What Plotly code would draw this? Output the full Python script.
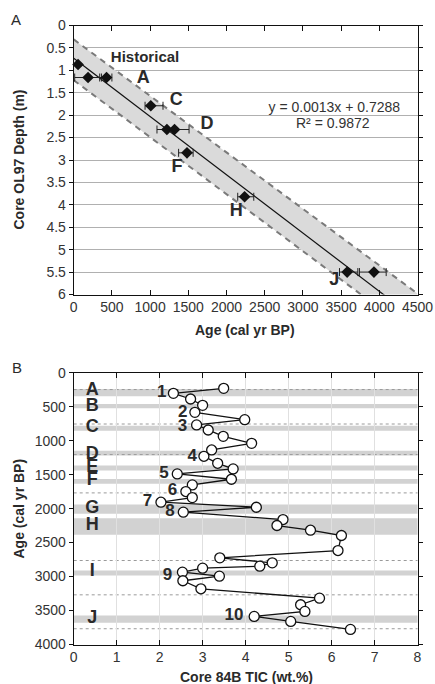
import plotly.graph_objects as go

FONT = "Liberation Sans, Arial, sans-serif"
DARK = "#2a2a2a"

# ---------------- Panel A data ----------------
hist_age = [57]
hist_depth = [0.87]
date_age = [188, 430, 1009, 1220, 1320, 1483, 2237, 3579, 3930]
date_depth = [1.16, 1.16, 1.79, 2.32, 2.32, 2.84, 3.82, 5.50, 5.50]
err_plus = [175, 70, 160, 100, 190, 80, 120, 140, 160]
err_minus = [175, 90, 75, 130, 100, 110, 90, 100, 190]

reg_slope = 0.0013
reg_intercept = 0.7288
reg_age = [0, 4500]

band_upper_age = [0, 4500]
band_upper_depth = [0.31, 5.98]
band_lower_age = [0, 4500]
band_lower_depth = [1.22, 6.94]

a_label_text = ["Historical", "A", "C", "D", "F", "H", "J"]
a_label_age = [934, 912, 1342, 1746, 1351, 2127, 3412]
a_label_depth = [0.73, 1.19, 1.68, 2.2, 3.17, 4.15, 5.68]

eq_text = ["y = 0.0013x + 0.7288", "R² = 0.9872"]
eq_age = [3412, 3391]
eq_depth = [1.85, 2.2]

a_xticks = [0, 500, 1000, 1500, 2000, 2500, 3000, 3500, 4000, 4500]
a_yticks = [0, 0.5, 1, 1.5, 2, 2.5, 3, 3.5, 4, 4.5, 5, 5.5, 6]

# ---------------- Panel B data ----------------
tic = [3.49, 2.32, 2.72, 3.00, 2.82, 3.98, 2.86, 3.13, 3.48, 4.14,
       3.21, 3.03, 3.35, 3.71, 2.41, 3.67, 2.76, 2.61, 2.76, 2.03,
       4.25, 2.55, 4.87, 4.73, 5.51, 6.23, 6.15, 3.40, 4.62, 4.33,
       3.00, 2.53, 3.39, 2.54, 2.96, 5.72, 5.28, 5.38, 4.20, 5.05, 6.44]
tic_age = [230, 304, 387, 480, 583, 691, 769, 843, 936, 1039,
           1137, 1230, 1333, 1416, 1490, 1568, 1651, 1749, 1838, 1906,
           1980, 2053, 2161, 2249, 2318, 2396, 2617, 2724, 2798, 2847,
           2877, 2936, 2994, 3062, 3180, 3318, 3415, 3513, 3587, 3660, 3778]

band_top = [240, 460, 779, 1147, 1367, 1563, 1940, 2142, 2911, 3572]
band_bottom = [348, 524, 853, 1220, 1441, 1636, 2075, 2386, 2984, 3680]
dotted_age = [248, 755, 1205, 1769, 2764, 3269, 3768]

b_letter_text = ["A", "B", "C", "D", "E", "F", "G", "H", "I", "J"]
b_letter_tic = [0.43] * 10
b_letter_age = [265, 500, 804, 1210, 1392, 1588, 2004, 2249, 2925, 3621]

b_num_text = ["1", "2", "3", "4", "5", "6", "7", "8", "9", "10"]
b_num_tic = [2.05, 2.54, 2.53, 2.76, 2.10, 2.30, 1.72, 2.24, 2.18, 3.73]
b_num_age = [290, 583, 789, 1230, 1490, 1735, 1896, 2053, 2994, 3572]

b_xticks = [0, 1, 2, 3, 4, 5, 6, 7, 8]
b_yticks = [0, 500, 1000, 1500, 2000, 2500, 3000, 3500, 4000]

fig = go.Figure()

# ---- Panel A traces ----
fig.add_trace(go.Scatter(
    x=band_upper_age + band_lower_age[::-1],
    y=band_upper_depth + band_lower_depth[::-1],
    fill="toself", fillcolor="#dadada", line=dict(width=0),
    mode="lines", hoverinfo="skip", showlegend=False, xaxis="x", yaxis="y"))
fig.add_trace(go.Scatter(x=band_upper_age, y=band_upper_depth, mode="lines",
                         line=dict(color="#7a7a7a", width=2, dash="6px,5px"),
                         showlegend=False, xaxis="x", yaxis="y"))
fig.add_trace(go.Scatter(x=band_lower_age, y=band_lower_depth, mode="lines",
                         line=dict(color="#7a7a7a", width=2, dash="6px,5px"),
                         showlegend=False, xaxis="x", yaxis="y"))
fig.add_trace(go.Scatter(x=reg_age, y=[reg_slope * a + reg_intercept for a in reg_age],
                         mode="lines", line=dict(color="#111", width=1.2),
                         showlegend=False, xaxis="x", yaxis="y"))
fig.add_trace(go.Scatter(
    x=date_age, y=date_depth, mode="markers",
    marker=dict(symbol="diamond", size=9, color="#111"),
    error_x=dict(type="data", symmetric=False, array=err_plus, arrayminus=err_minus,
                 color="#222", thickness=1, width=4),
    showlegend=False, xaxis="x", yaxis="y", cliponaxis=False))
fig.add_trace(go.Scatter(x=hist_age, y=hist_depth, mode="markers",
                         marker=dict(symbol="diamond", size=9, color="#111"),
                         showlegend=False, xaxis="x", yaxis="y", cliponaxis=False))
fig.add_trace(go.Scatter(
    x=a_label_age, y=a_label_depth, mode="text", text=a_label_text,
    textfont=dict(family=FONT, size=[15, 18, 18, 18, 18, 18, 18], color=DARK, weight="bold"),
    showlegend=False, xaxis="x", yaxis="y", cliponaxis=False))
fig.add_trace(go.Scatter(
    x=eq_age, y=eq_depth, mode="text", text=eq_text,
    textfont=dict(family=FONT, size=14, color="#333"),
    showlegend=False, xaxis="x", yaxis="y", cliponaxis=False))

# ---- Panel B shapes (bands, dotted lines) ----
shapes = []
for t, b in zip(band_top, band_bottom):
    shapes.append(dict(type="rect", xref="x2 domain", yref="y2", x0=0, x1=1, y0=t, y1=b,
                       fillcolor="#d2d2d2", line=dict(width=0), layer="below"))
for d in dotted_age:
    shapes.append(dict(type="line", xref="x2 domain", yref="y2", x0=0, x1=1, y0=d, y1=d,
                       line=dict(color="#9a9a9a", width=1, dash="dot"), layer="below"))

fig.add_trace(go.Scatter(
    x=tic, y=tic_age, mode="lines+markers",
    line=dict(color="#111", width=1.3),
    marker=dict(symbol="circle", size=10, color="white", line=dict(color="#111", width=1.3)),
    showlegend=False, xaxis="x2", yaxis="y2", cliponaxis=False))
fig.add_trace(go.Scatter(
    x=b_letter_tic, y=b_letter_age, mode="text", text=b_letter_text,
    textfont=dict(family=FONT, size=18, color=DARK, weight="bold"),
    showlegend=False, xaxis="x2", yaxis="y2", cliponaxis=False))
fig.add_trace(go.Scatter(
    x=b_num_tic, y=b_num_age, mode="text", text=b_num_text,
    textfont=dict(family=FONT, size=17, color=DARK, weight="bold"),
    showlegend=False, xaxis="x2", yaxis="y2", cliponaxis=False))

axis_common = dict(showline=True, linecolor="#111", linewidth=1, mirror="ticks",
                   tickfont=dict(family=FONT, size=14, color="#333"), zeroline=False,
                   tickcolor="#111", automargin=False)

top_dom = [1 - 294.5 / 684, 1 - 25.5 / 684]
bot_dom = [1 - 644.5 / 684, 1 - 372.7 / 684]
xdom = [73.7 / 435, 417.5 / 435]


def ann(text, px, py, size=14, angle=0):
    return dict(text=text, x=px / 435, y=1 - py / 684, xref="paper", yref="paper",
                xanchor="center", yanchor="middle", showarrow=False, textangle=angle,
                font=dict(family=FONT, size=size, color=DARK))


fig.update_layout(
    width=435, height=684, margin=dict(l=0, r=0, t=0, b=0, pad=0),
    autosize=False,
    paper_bgcolor="white", plot_bgcolor="white",
    font=dict(family=FONT),
    shapes=shapes,
    xaxis=dict(domain=xdom, anchor="y", range=[0, 4500], tickvals=a_xticks,
               ticks="inside", ticklen=5, showgrid=False, **axis_common),
    yaxis=dict(domain=top_dom, anchor="x", range=[6, 0], tickvals=a_yticks,
               ticks="outside", ticklen=4, showgrid=True, gridcolor="#b0b0b0", gridwidth=1,
               **axis_common),
    xaxis2=dict(domain=xdom, anchor="y2", range=[0, 8], tickvals=b_xticks,
                ticks="inside", ticklen=5, showgrid=True, gridcolor="#e0e0e0", gridwidth=1,
                **axis_common),
    yaxis2=dict(domain=bot_dom, anchor="x2", range=[4000, 0], tickvals=b_yticks,
                ticks="outside", ticklen=4, showgrid=False, **axis_common),
    annotations=[
        ann("A", 16, 20, 15),
        ann("B", 16.5, 367, 15),
        ann("<b>Core OL97 Depth (m)</b>", 18.5, 160, 14, -90),
        ann("<b>Age (cal yr BP)</b>", 245, 330, 14),
        ann("<b>Age (cal yr BP)</b>", 18.5, 509, 14, -90),
        ann("<b>Core 84B TIC (wt.%)</b>", 246, 677, 14),
    ],
)

fig.write_html(
    "out.html",
    post_script="document.body.style.margin='0';document.body.style.padding='0';"
                "document.documentElement.style.overflow='hidden';",
)
